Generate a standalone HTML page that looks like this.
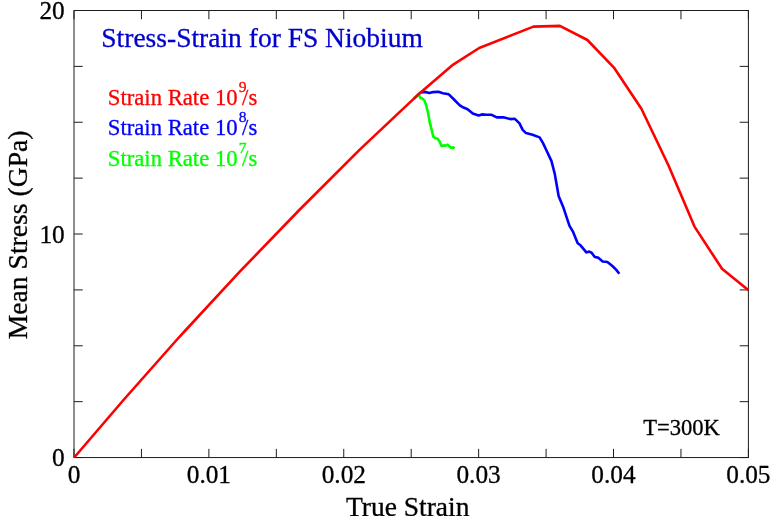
<!DOCTYPE html>
<html><head><meta charset="utf-8"><title>Stress-Strain for FS Niobium</title>
<style>
html,body{margin:0;padding:0;background:#fff;}
svg{display:block;will-change:transform;}
text{font-family:"Liberation Serif",serif;stroke-width:0.3px;paint-order:stroke;stroke-linejoin:round;}
</style></head>
<body>
<svg width="771" height="516" viewBox="0 0 771 516">
<rect width="771" height="516" fill="#fff"/>
<g stroke="#1c1c1c" stroke-width="1" fill="none">
<rect x="74.0" y="10.5" width="674.4" height="447.05"/>
<line x1="74.00" y1="457.55" x2="74.00" y2="448.85"/>
<line x1="74.00" y1="10.5" x2="74.00" y2="19.2"/>
<line x1="141.44" y1="457.55" x2="141.44" y2="448.85"/>
<line x1="141.44" y1="10.5" x2="141.44" y2="19.2"/>
<line x1="208.88" y1="457.55" x2="208.88" y2="448.85"/>
<line x1="208.88" y1="10.5" x2="208.88" y2="19.2"/>
<line x1="276.32" y1="457.55" x2="276.32" y2="448.85"/>
<line x1="276.32" y1="10.5" x2="276.32" y2="19.2"/>
<line x1="343.76" y1="457.55" x2="343.76" y2="448.85"/>
<line x1="343.76" y1="10.5" x2="343.76" y2="19.2"/>
<line x1="411.20" y1="457.55" x2="411.20" y2="448.85"/>
<line x1="411.20" y1="10.5" x2="411.20" y2="19.2"/>
<line x1="478.64" y1="457.55" x2="478.64" y2="448.85"/>
<line x1="478.64" y1="10.5" x2="478.64" y2="19.2"/>
<line x1="546.08" y1="457.55" x2="546.08" y2="448.85"/>
<line x1="546.08" y1="10.5" x2="546.08" y2="19.2"/>
<line x1="613.52" y1="457.55" x2="613.52" y2="448.85"/>
<line x1="613.52" y1="10.5" x2="613.52" y2="19.2"/>
<line x1="680.96" y1="457.55" x2="680.96" y2="448.85"/>
<line x1="680.96" y1="10.5" x2="680.96" y2="19.2"/>
<line x1="748.40" y1="457.55" x2="748.40" y2="448.85"/>
<line x1="748.40" y1="10.5" x2="748.40" y2="19.2"/>
<line x1="74.0" y1="457.55" x2="82.7" y2="457.55"/>
<line x1="748.4" y1="457.55" x2="739.6999999999999" y2="457.55"/>
<line x1="74.0" y1="401.67" x2="82.7" y2="401.67"/>
<line x1="748.4" y1="401.67" x2="739.6999999999999" y2="401.67"/>
<line x1="74.0" y1="345.79" x2="82.7" y2="345.79"/>
<line x1="748.4" y1="345.79" x2="739.6999999999999" y2="345.79"/>
<line x1="74.0" y1="289.91" x2="82.7" y2="289.91"/>
<line x1="748.4" y1="289.91" x2="739.6999999999999" y2="289.91"/>
<line x1="74.0" y1="234.03" x2="82.7" y2="234.03"/>
<line x1="748.4" y1="234.03" x2="739.6999999999999" y2="234.03"/>
<line x1="74.0" y1="178.14" x2="82.7" y2="178.14"/>
<line x1="748.4" y1="178.14" x2="739.6999999999999" y2="178.14"/>
<line x1="74.0" y1="122.26" x2="82.7" y2="122.26"/>
<line x1="748.4" y1="122.26" x2="739.6999999999999" y2="122.26"/>
<line x1="74.0" y1="66.38" x2="82.7" y2="66.38"/>
<line x1="748.4" y1="66.38" x2="739.6999999999999" y2="66.38"/>
<line x1="74.0" y1="10.50" x2="82.7" y2="10.50"/>
<line x1="748.4" y1="10.50" x2="739.6999999999999" y2="10.50"/>
</g>
<g fill="none" stroke-width="2.6" stroke-linejoin="round" stroke-linecap="butt">
<path d="M414.0,98.5 L420.8,92.4 L425.4,91.9 L429.3,93.0 L433.2,92.1 L438.4,91.7 L442.9,93.2 L448.8,94.3 L454.0,99.5 L459.8,105.3 L463.0,107.3 L467.6,109.2 L472.8,113.5 L478.6,115.5 L481.9,114.4 L486.4,114.8 L491.6,114.8 L496.8,117.4 L503.3,117.3 L510.4,119.1 L514.9,118.8 L519.5,123.4 L522.7,129.9 L526.0,133.1 L532.5,134.8 L539.6,137.4 L542.9,142.9 L546.5,150.5 L551.4,160.9 L554.8,174.0 L557.1,187.2 L558.6,195.9 L563.5,207.8 L566.4,216.7 L569.5,225.8 L572.8,231.3 L577.7,243.3 L580.5,245.3 L586.4,252.4 L589.2,251.6 L591.6,252.7 L594.8,257.0 L598.0,257.6 L602.7,261.5 L607.4,262.0 L612.4,266.0 L616.3,269.9 L619.3,273.7" stroke="#0000ff"/>
<path d="M414.0,98.5 L418.0,94.9 L419.1,95.4 L420.4,97.9 L422.5,98.6 L424.5,100.6 L426.2,105.4 L428.2,113.5 L429.6,121.6 L432.0,131.1 L433.3,136.6 L435.4,138.2 L437.4,138.6 L439.4,141.3 L441.5,146.1 L443.5,145.4 L445.5,145.7 L447.6,144.7 L449.6,146.7 L451.0,147.7 L453.0,147.4 L454.6,148.5" stroke="#00ff00"/>
<path d="M74.2,457.5 L123.5,400.0 L176.6,340.0 L185.8,330.0 L240.0,271.4 L299.3,210.0 L360.0,149.4 L420.0,92.9 L453.2,64.6 L479.2,48.0 L533.4,26.6 L559.9,25.9 L587.4,40.0 L614.4,68.2 L641.4,108.8 L668.4,165.3 L694.5,226.6 L722.0,268.8 L748.5,290.3" stroke="#ff0000"/>
</g>
<g font-size="25.3" fill="#000" stroke="#000">
<text x="74.0" y="483.0" text-anchor="middle">0</text>
<text x="208.9" y="483.0" text-anchor="middle">0.01</text>
<text x="343.8" y="483.0" text-anchor="middle">0.02</text>
<text x="478.6" y="483.0" text-anchor="middle">0.03</text>
<text x="613.5" y="483.0" text-anchor="middle">0.04</text>
<text x="748.4" y="483.0" text-anchor="middle">0.05</text>
<text x="64.7" y="466.4" text-anchor="end">0</text>
<text x="64.7" y="242.8" text-anchor="end">10</text>
<text x="64.7" y="19.3" text-anchor="end">20</text>
</g>
<text x="101.3" y="47.3" font-size="27.5" fill="#0000cd" stroke="#0000cd">Stress-Strain for FS Niobium</text>
<text x="107.8" y="104.6" fill="#ff0000" stroke="#ff0000" font-size="22.7">Strain Rate 10</text><text x="238.7" y="91.7" fill="#ff0000" stroke="#ff0000" font-size="15.6">9</text><text x="242.1" y="104.6" fill="#ff0000" stroke="#ff0000" font-size="22.7">/s</text>
<text x="107.8" y="134.9" fill="#0000ff" stroke="#0000ff" font-size="22.7">Strain Rate 10</text><text x="238.7" y="122.0" fill="#0000ff" stroke="#0000ff" font-size="15.6">8</text><text x="242.1" y="134.9" fill="#0000ff" stroke="#0000ff" font-size="22.7">/s</text>
<text x="107.8" y="165.5" fill="#00ff00" stroke="#00ff00" font-size="22.7">Strain Rate 10</text><text x="238.7" y="152.6" fill="#00ff00" stroke="#00ff00" font-size="15.6">7</text><text x="242.1" y="165.5" fill="#00ff00" stroke="#00ff00" font-size="22.7">/s</text>
<text x="643.2" y="435.1" font-size="22.6" fill="#000" stroke="#000">T=300K</text>
<text x="407.7" y="515.5" font-size="27.5" text-anchor="middle" fill="#000" stroke="#000">True Strain</text>
<text transform="translate(26.9,234.9) rotate(-90)" font-size="27.65" text-anchor="middle" fill="#000" stroke="#000">Mean Stress (GPa)</text>
</svg>
</body></html>
